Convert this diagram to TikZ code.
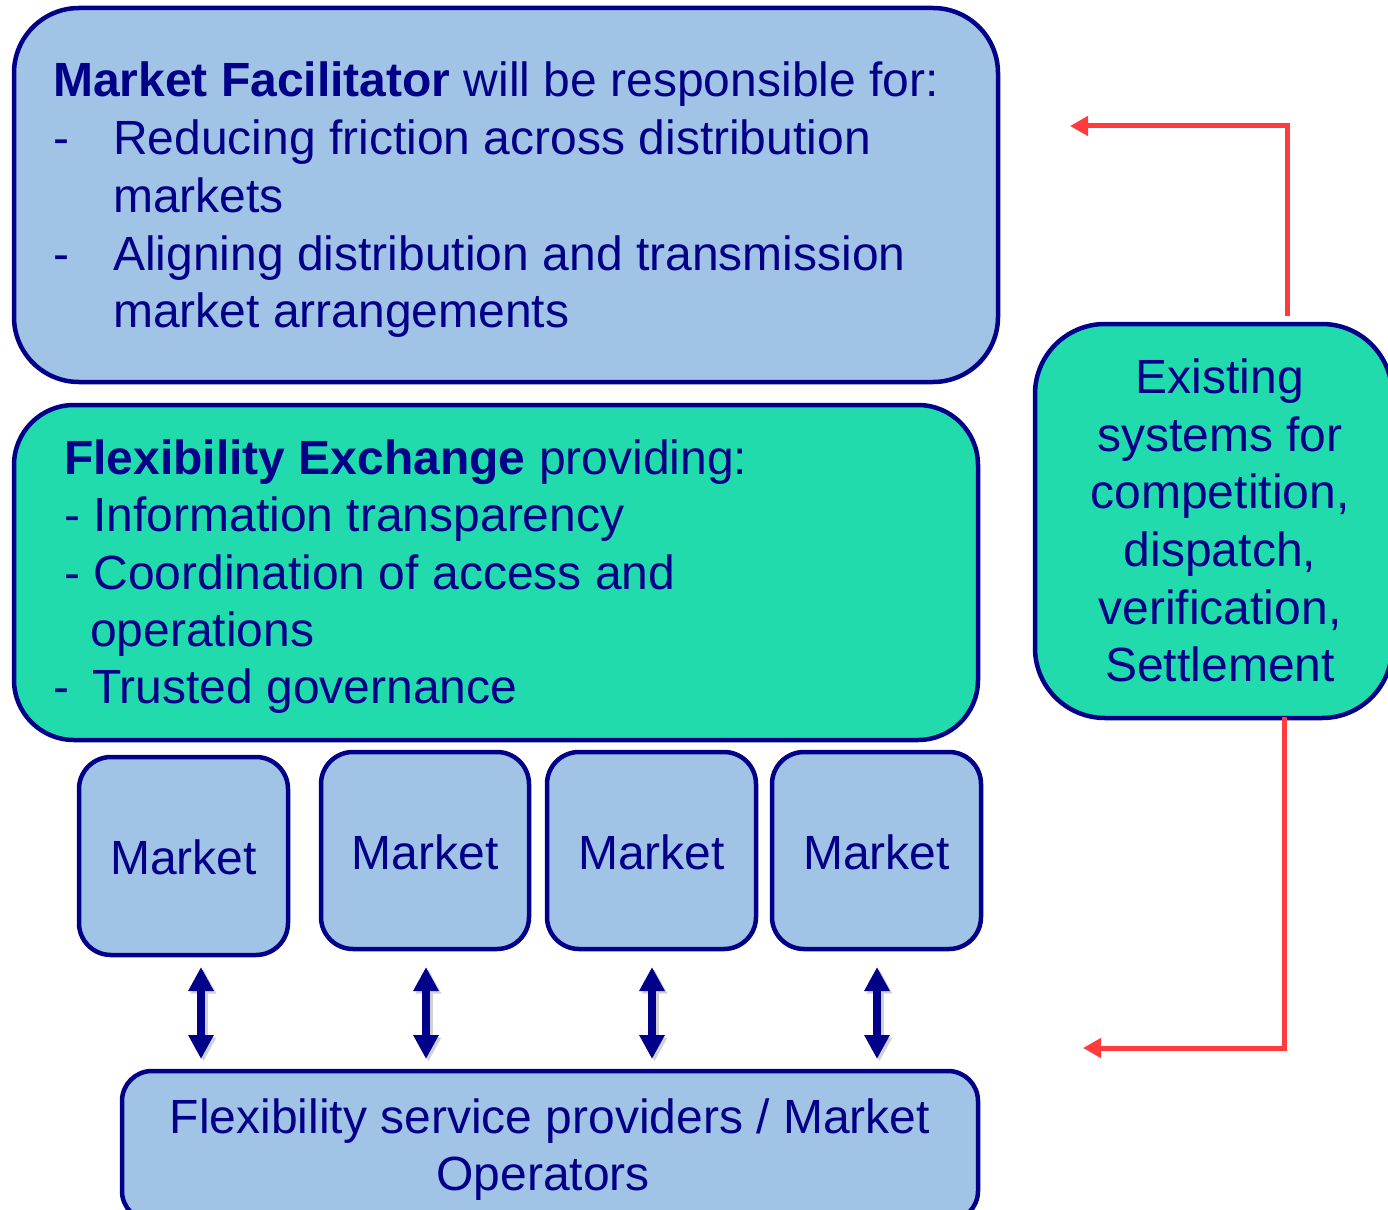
\documentclass[tikz,border=0pt]{standalone}
\usepackage{fontspec}
\setmainfont{Liberation Sans}
\usetikzlibrary{arrows.meta}
\definecolor{navy}{HTML}{000088}
\definecolor{boxblue}{HTML}{A1C4E6}
\definecolor{tealfill}{HTML}{22DBAD}
\definecolor{redarrow}{HTML}{FF3B3B}
\begin{document}
\begin{tikzpicture}[x=1pt,y=-1pt,
 box/.style={draw=navy, line width=4.5pt, rectangle, anchor=north west, inner sep=0pt, outer sep=0pt},
 txt/.style={anchor=base west, inner sep=0pt, text=navy, font=\fontsize{48}{57}\selectfont},
 ctxt/.style={txt, anchor=base},
 dbl/.style={navy, line width=8pt, {Triangle[width=24pt,length=24pt]}-{Triangle[width=24pt,length=24pt]}},
 dblshadow/.style={black!18, line width=8pt, {Triangle[width=24pt,length=24pt]}-{Triangle[width=24pt,length=24pt]}},
 redarr/.style={redarrow, line width=5pt, -{Triangle[width=19pt,length=18pt]}}]
\useasboundingbox (0,0) rectangle (1388,1209);

% boxes
\node[box, fill=boxblue, rounded corners=65pt, minimum width=984pt, minimum height=374pt] (mf) at (14,8) {};
\node[box, fill=tealfill, rounded corners=60pt, minimum width=964pt, minimum height=335pt] (fx) at (14,405) {};
\node[box, fill=tealfill, rounded corners=70pt, minimum width=357pt, minimum height=394pt] (ex) at (1035,324) {};
\node[box, fill=boxblue, rounded corners=32pt, minimum width=209pt, minimum height=198pt] (m1) at (79,757) {};
\node[box, fill=boxblue, rounded corners=32pt, minimum width=208pt, minimum height=197pt] (m2) at (321,752) {};
\node[box, fill=boxblue, rounded corners=32pt, minimum width=209pt, minimum height=197pt] (m3) at (547,752) {};
\node[box, fill=boxblue, rounded corners=32pt, minimum width=209pt, minimum height=197pt] (m4) at (772,752) {};
\node[box, fill=boxblue, rounded corners=30pt, minimum width=856pt, minimum height=150pt] (fsp) at (122,1071) {};

% Market Facilitator text
\node[txt] (mf1) at (53,97) {\textbf{Market Facilitator} will be responsible for:};
\node[txt] (mf2d) at (53,155) {-};
\node[txt] (mf2) at (113,155) {Reducing friction across distribution};
\node[txt] (mf3) at (113,212) {markets};
\node[txt] (mf4d) at (53,270) {-};
\node[txt] (mf4) at (113,270) {Aligning distribution and transmission};
\node[txt] (mf5) at (113,327) {market arrangements};

% Flexibility Exchange text
\node[txt] (fx1) at (64,474) {\textbf{Flexibility Exchange} providing:};
\node[txt] (fx2) at (64,531) {- Information transparency};
\node[txt] (fx3) at (64,589) {- Coordination of access and};
\node[txt] (fx4) at (90,646) {operations};
\node[txt] (fx5d) at (53,703) {-};
\node[txt] (fx5) at (92,703) {Trusted governance};

% Existing systems text
\node[ctxt] (ex1) at (1220,393) {Existing};
\node[ctxt] (ex2) at (1220,451) {systems for};
\node[ctxt] (ex3) at (1220,508) {competition,};
\node[ctxt] (ex4) at (1220,566) {dispatch,};
\node[ctxt] (ex5) at (1220,624) {verification,};
\node[ctxt] (ex6) at (1220,681) {Settlement};

% Market labels
\node[ctxt] (m1t) at (183.5,874) {Market};
\node[ctxt] (m2t) at (425,869) {Market};
\node[ctxt] (m3t) at (651.5,869) {Market};
\node[ctxt] (m4t) at (876.5,869) {Market};

% bottom text
\node[ctxt] (fsp1) at (550,1133) {Flexibility service providers / Market};
\node[ctxt] (fsp2) at (543,1190) {Operators};

% double arrows
\path ([xshift=17.5pt,yshift=-12pt]m1.south) coordinate (a1);
\path ([xshift=1pt,yshift=-18pt]m2.south) coordinate (a2);
\path ([xshift=0.5pt,yshift=-18pt]m3.south) coordinate (a3);
\path ([xshift=0.5pt,yshift=-18pt]m4.south) coordinate (a4);
\foreach \a in {a1,a2,a3,a4}{
  \draw[dblshadow, shorten >=12pt, transform canvas={xshift=2.5pt,yshift=-2.5pt}] (\a) -- (\a |- fsp.north);
  \draw[dbl, shorten >=12pt] (\a) -- (\a |- fsp.north);
}

% red arrows
\coordinate (rx1) at (1287,0);
\coordinate (rtop) at (1070,126);
\coordinate (rx2) at (1284,0);
\coordinate (rbot) at (1083,1048);
\draw[redarr, shorten <=8pt] (ex.north -| rx1) |- (rtop);
\draw[redarr] ([yshift=1pt]ex.south -| rx2) |- (rbot);
\end{tikzpicture}
\end{document}
